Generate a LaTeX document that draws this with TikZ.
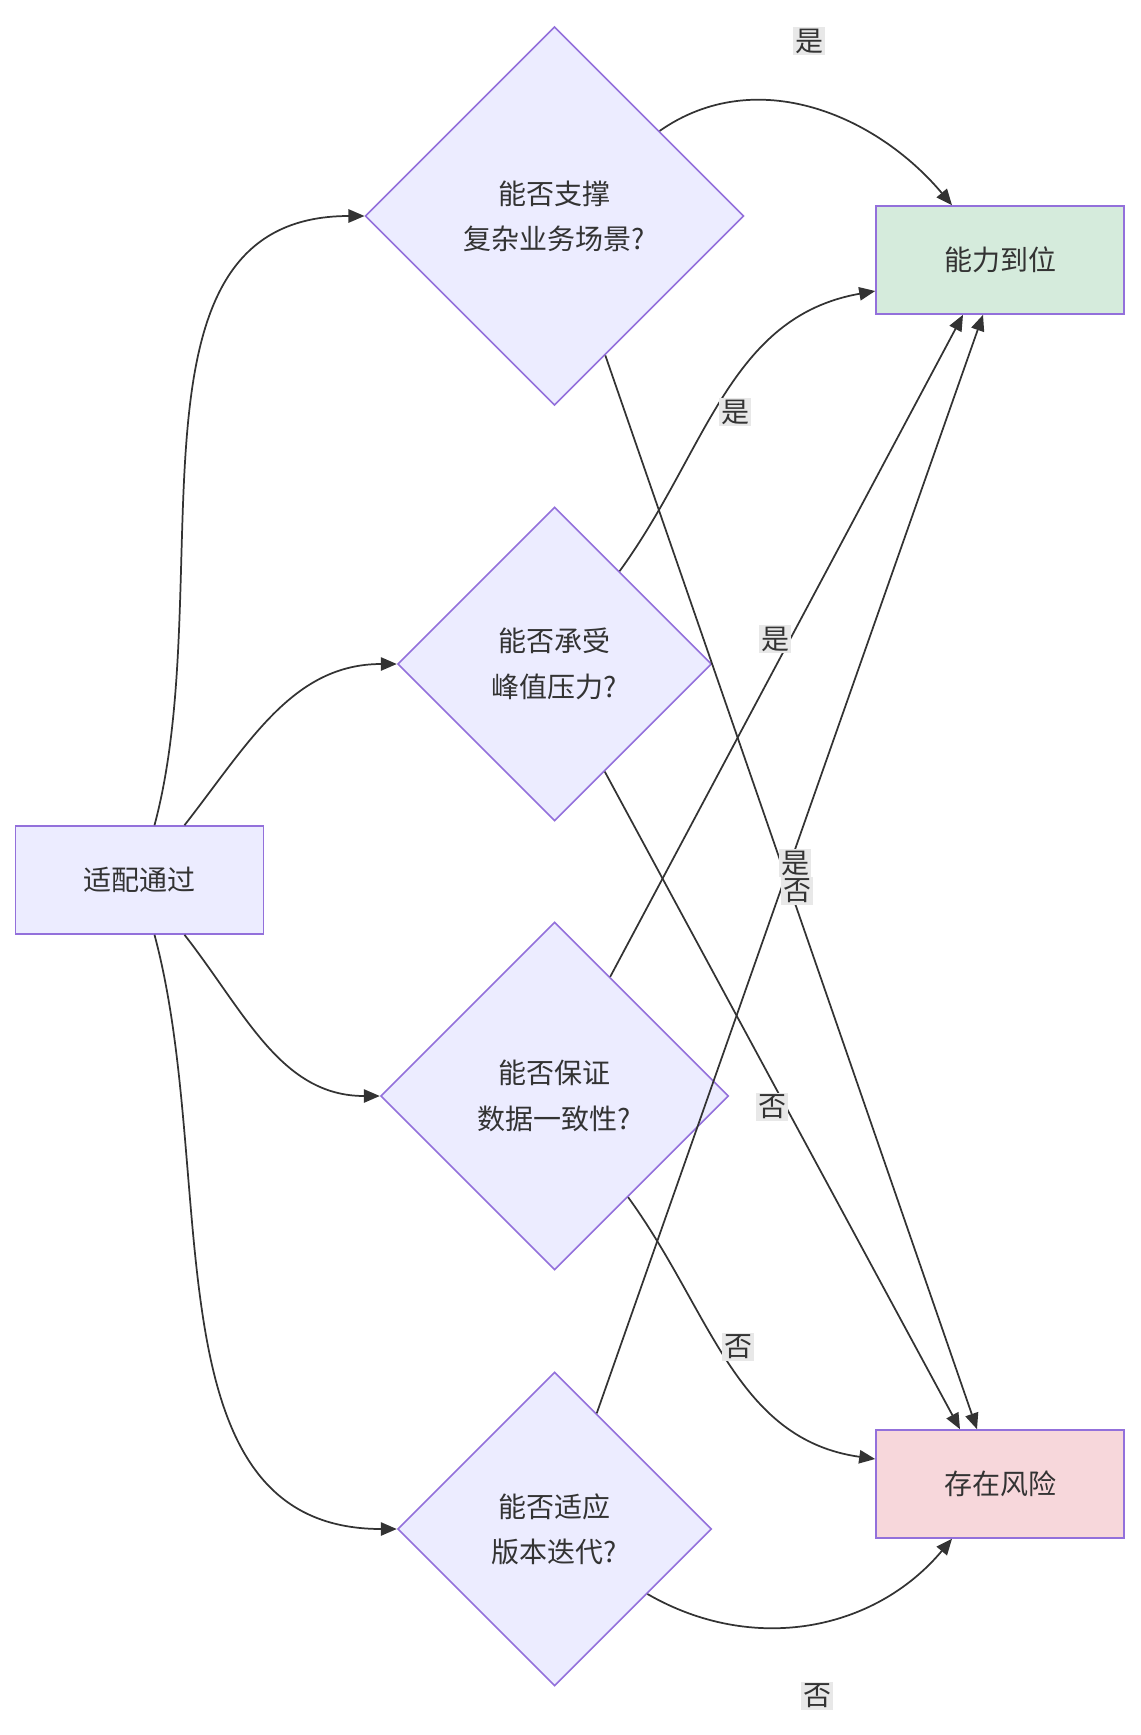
\documentclass[tikz,border=0pt]{standalone}
\usepackage{fontspec}
\setmainfont{Noto Sans CJK SC}
\usetikzlibrary{shapes.geometric,arrows.meta,calc}
\definecolor{dfill}{HTML}{ECECFF}
\definecolor{dline}{HTML}{9370DB}
\definecolor{okfill}{HTML}{D5EBDC}
\definecolor{riskfill}{HTML}{F7D7DB}
\definecolor{edge}{HTML}{333333}
\definecolor{lbl}{HTML}{E8E8E8}
\begin{document}
\begin{tikzpicture}[x=0.75pt,y=-0.75pt,
  every node/.style={font=\fontsize{21}{34}\selectfont, text=edge},
  box/.style={draw=dline, line width=1.2pt, minimum width=186pt, minimum height=81pt, inner sep=0},
  dia/.style={diamond, aspect=1, draw=dline, fill=dfill, line width=1.2pt, inner sep=0, align=center},
  arr/.style={draw=edge, line width=1.3pt, -{Triangle[length=12pt,width=10pt]}},
  lab/.style={fill=lbl, inner sep=1.5pt}]
\useasboundingbox (0,0) rectangle (1140,1735);
\node[box, fill=dfill] (start) at (139.5,880) {适配通过};
\node[dia, minimum size=284pt] (d1) at (554.6,216) {能否支撑\\复杂业务场景?};
\node[dia, minimum size=235.5pt] (d2) at (554.6,664) {能否承受\\峰值压力?};
\node[dia, minimum size=261pt] (d3) at (554.6,1096) {能否保证\\数据一致性?};
\node[dia, minimum size=235.5pt] (d4) at (554.6,1529) {能否适应\\版本迭代?};
\node[box, fill=okfill] (ok) at (1000,260) {能力到位};
\node[box, fill=riskfill] (risk) at (1000,1484) {存在风险};

\draw[arr] ($(start.north)+(15,0)$) to[out=75,in=180] (d1.west);
\draw[arr] ($(start.north)+(45,0)$) to[out=52,in=180] (d2.west);
\draw[arr] ($(start.south)+(45,0)$) to[out=-52,in=180] (d3.west);
\draw[arr] ($(start.south)+(15,0)$) to[out=-75,in=180] (d4.west);

\draw[arr] (d1.39) to[out=35,in=130] ($(ok.north)+(-48,0)$);
\draw[arr] (d1.-70) -- ($(risk.north)+(-23,0)$);
\draw[arr] (d2.55) to[out=54,in=190] ($(ok.west)+(0,31)$);
\draw[arr] (d2.-65) -- ($(risk.north)+(-40,0)$);
\draw[arr] (d3.65) -- ($(ok.south)+(-37,0)$);
\draw[arr] (d3.-54) to[out=-54,in=172] ($(risk.west)+(0,-25)$);
\draw[arr] (d4.70) -- ($(ok.south)+(-17,0)$);
\draw[arr] (d4.-35) to[out=-30,in=-130] ($(risk.south)+(-48,0)$);

\node[lab] (l1) at (809,41) {是};
\node[lab] (l2) at (735,412) {是};
\node[lab] (l3) at (775,639) {是};
\node[lab] (l5) at (797,891) {否};
\node[lab] (l4) at (795,863) {是};
\node[lab] (l6) at (772,1107) {否};
\node[lab] (l7) at (738,1347) {否};
\node[lab] (l8) at (817,1696) {否};
\end{tikzpicture}
\end{document}
